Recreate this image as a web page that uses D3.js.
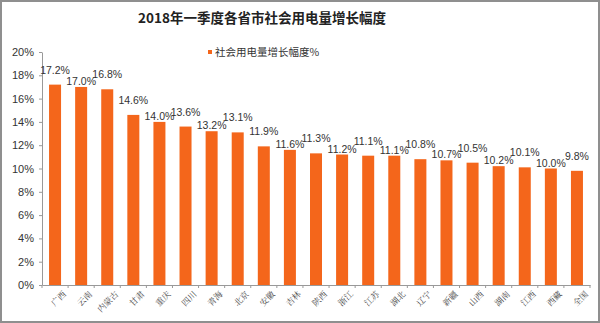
<!DOCTYPE html>
<html>
<head>
<meta charset="utf-8">
<script src="https://cdn.jsdelivr.net/npm/d3@7"></script>
<style>
  html, body { margin: 0; padding: 0; background: #fff; }
  svg { display: block; }
</style>
</head>
<body>
<svg id="chart" width="600" height="323"></svg>
<script>
const categories = ["广西","云南","内蒙古","甘肃","重庆","四川","青海","北京","安徽","吉林","陕西","浙江","江苏","湖北","辽宁","新疆","山西","湖南","江西","西藏","全国"];
const growth = [17.2,17.0,16.8,14.6,14.0,13.6,13.2,13.1,11.9,11.6,11.3,11.2,11.1,11.1,10.8,10.7,10.5,10.2,10.1,10.0,9.8];
const yTicks = [0,2,4,6,8,10,12,14,16,18,20];
const title = "2018年一季度各省市社会用电量增长幅度";
const seriesName = "社会用电量增长幅度%";

const W = 600, H = 323;
const plot = { left: 42, right: 590, top: 52, bottom: 285 };
const svg = d3.select("#chart");

// outer frame
svg.append("rect").attr("x", 1).attr("y", 1).attr("width", W - 2).attr("height", H - 2)
  .attr("fill", "#fff").attr("stroke", "#8f8f8f").attr("stroke-width", 2);

const x = d3.scaleBand().domain(categories)
  .range([plot.left, plot.right]).paddingInner(0.54).paddingOuter(0.27);
const y = d3.scaleLinear().domain([0, 20]).range([plot.bottom, plot.top]);

// title
svg.append("text").attr("x", 262).attr("y", 23).attr("text-anchor", "middle")
  .attr("font-family", "'Noto Sans CJK SC', sans-serif").attr("font-weight", "bold")
  .attr("font-size", 13.5).attr("fill", "#222").text(title);

// legend
svg.append("rect").attr("x", 208).attr("y", 50).attr("width", 4).attr("height", 4).attr("fill", "#F4661B");
svg.append("text").attr("x", 215).attr("y", 56)
  .attr("font-family", "'Noto Sans CJK SC', sans-serif").attr("font-size", 10.5)
  .attr("fill", "#333").text(seriesName);

// y axis
const yAxis = d3.axisLeft(y).tickValues(yTicks).tickFormat(d => d + "%").tickSize(3).tickSizeOuter(0);
const gy = svg.append("g").attr("transform", `translate(${plot.left},0)`).call(yAxis);
gy.select(".domain").attr("stroke", "#999");
gy.selectAll(".tick line").attr("stroke", "#999");
gy.selectAll(".tick text").attr("font-family", "Arial, 'Liberation Sans', sans-serif")
  .attr("font-size", 11).attr("fill", "#333").attr("x", -8);

// x axis
const xAxis = d3.axisBottom(x).tickSize(0).tickSizeOuter(0);
const gx = svg.append("g").attr("transform", `translate(0,${y(0)})`).call(xAxis);
gx.select(".domain").attr("stroke", "#999");
gx.selectAll(".tick text")
  .attr("font-family", "'Noto Serif CJK SC', 'Noto Sans CJK SC', serif")
  .attr("font-size", 8.5).attr("fill", "#444")
  .attr("text-anchor", "end")
  .attr("transform", "translate(6,4) rotate(-45)")
  .attr("dy", "0.6em");

// boundary ticks between categories
const step = x.step();
const gap = step - x.bandwidth();
const sepPos = categories.map(c => x(c) - gap / 2)
  .concat([x(categories[categories.length - 1]) + x.bandwidth() + gap / 2]);
svg.append("g").selectAll("line").data(sepPos).join("line")
  .attr("x1", d => d).attr("x2", d => d)
  .attr("y1", y(0)).attr("y2", y(0) + 3)
  .attr("stroke", "#999");

// bars
svg.append("g").selectAll("rect").data(categories).join("rect")
  .attr("x", d => x(d)).attr("width", x.bandwidth())
  .attr("y", (d, i) => y(growth[i])).attr("height", (d, i) => y(0) - y(growth[i]))
  .attr("fill", "#F4661B");

// value labels: sit high above the bar unless that collides with the
// previous label, in which case drop close to the bar top
const HIGH = 11, LOW = 2, MIN_GAP = 9;
const labelY = [];
growth.forEach((v, i) => {
  const top = y(v);
  if (i === 0) { labelY.push(top - HIGH); return; }
  const prev = labelY[i - 1];
  const hi = top - HIGH, lo = top - LOW;
  if (Math.abs(hi - prev) >= MIN_GAP) labelY.push(hi);
  else if (Math.abs(lo - prev) >= MIN_GAP) labelY.push(lo);
  else labelY.push(hi);
});
svg.append("g").selectAll("text").data(categories).join("text")
  .attr("x", d => x(d) + x.bandwidth() / 2)
  .attr("y", (d, i) => labelY[i])
  .attr("text-anchor", "middle")
  .attr("font-family", "Arial, 'Liberation Sans', sans-serif").attr("font-size", 10.5)
  .attr("fill", "#333")
  .text((d, i) => growth[i].toFixed(1) + "%");
</script>
</body>
</html>
